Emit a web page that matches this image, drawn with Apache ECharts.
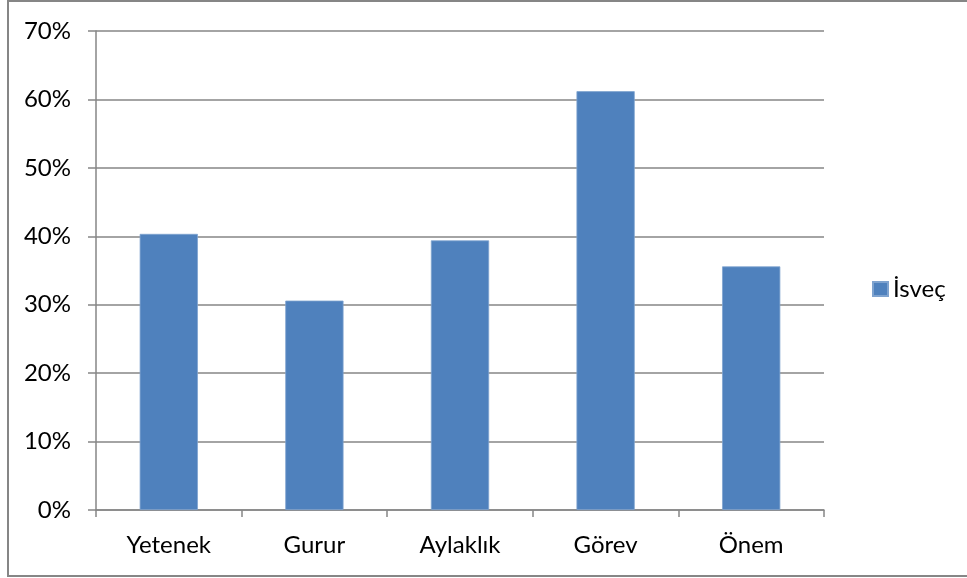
<!DOCTYPE html>
<html>
<head>
<meta charset="utf-8">
<script src="https://cdn.jsdelivr.net/npm/echarts@6/dist/echarts.min.js"></script>
<style>
  html, body { margin: 0; padding: 0; background: #fff; }
  #chart { width: 967px; height: 578px; }
</style>
</head>
<body>
<div id="chart"></div>
<script>
// data
var categories = ['Yetenek', 'Gurur', 'Aylaklık', 'Görev', 'Önem'];
var seriesName = 'İsveç';
var values = [40.35, 30.6, 39.4, 61.2, 35.6];
var yTicks = [0, 10, 20, 30, 40, 50, 60, 70];

var font = 'Lato, "Open Sans", sans-serif';
var gray = '#868686';

var myChart = echarts.init(document.getElementById('chart'));
var option = {
  animation: false,
  backgroundColor: '#fff',
  textStyle: { fontFamily: font },
  graphic: [{
    type: 'rect',
    shape: { x: 8, y: 1, width: 970, height: 575 },
    style: { fill: 'none', stroke: gray, lineWidth: 2 },
    silent: true
  }],
  grid: { left: 96, right: 143, top: 31, bottom: 68 },
  legend: {
    data: [seriesName],
    orient: 'vertical',
    left: 867,
    top: 'middle',
    itemWidth: 15,
    itemHeight: 14,
    itemGap: 5,
    icon: 'rect',
    textStyle: { fontSize: 24, color: '#000', fontFamily: font }
  },
  xAxis: {
    type: 'category',
    data: categories,
    axisLine: { lineStyle: { color: gray, width: 1.5 } },
    axisTick: { show: true, alignWithLabel: false, length: 7, lineStyle: { color: gray, width: 1.5 } },
    axisLabel: { color: '#000', fontSize: 24, margin: 23, fontFamily: font }
  },
  yAxis: {
    type: 'value',
    min: yTicks[0],
    max: yTicks[yTicks.length - 1],
    interval: 10,
    axisLine: { show: true, lineStyle: { color: gray, width: 1.5 } },
    axisTick: { show: true, inside: false, length: 8, lineStyle: { color: gray, width: 1.5 } },
    axisLabel: { color: '#000', fontSize: 24, margin: 25, fontFamily: font, formatter: '{value}%' },
    splitLine: { lineStyle: { color: gray, width: 1.5 } }
  },
  series: [{
    name: seriesName,
    type: 'bar',
    data: values,
    barWidth: '40%',
    itemStyle: { color: '#4F81BD', borderColor: '#7FA3CF', borderWidth: 0.8 }
  }]
};
myChart.setOption(option);
</script>
</body>
</html>
